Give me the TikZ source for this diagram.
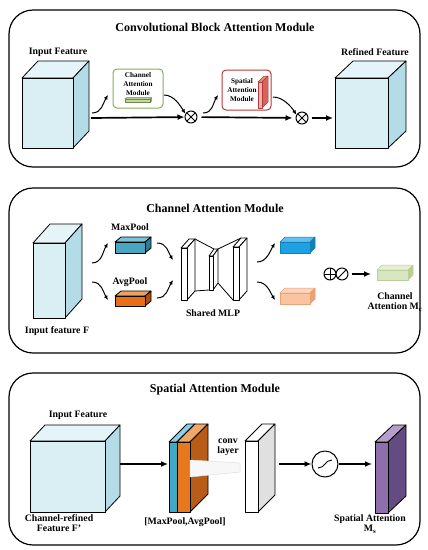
\documentclass[tikz,border=0pt]{standalone}
\usepackage{fontspec}
\setmainfont{Liberation Serif}
\usetikzlibrary{arrows.meta,calc,positioning}
\definecolor{cubefront}{RGB}{218,239,244}
\definecolor{cubeside}{RGB}{180,220,230}
\definecolor{cubetop}{RGB}{228,244,248}
\definecolor{camgreen}{RGB}{138,170,90}
\definecolor{cambar}{RGB}{196,216,160}
\definecolor{samred}{RGB}{176,58,58}
\definecolor{samfront}{RGB}{240,180,172}
\definecolor{samside}{RGB}{214,100,92}
\definecolor{samtop}{RGB}{232,140,132}
\definecolor{mpfront}{RGB}{74,166,192}
\definecolor{mpside}{RGB}{46,124,148}
\definecolor{mptop}{RGB}{120,196,216}
\definecolor{apfront}{RGB}{232,110,26}
\definecolor{apside}{RGB}{176,76,14}
\definecolor{aptop}{RGB}{240,160,96}
\definecolor{bofront}{RGB}{28,162,226}
\definecolor{boside}{RGB}{20,128,180}
\definecolor{botop}{RGB}{96,192,238}
\definecolor{pofront}{RGB}{250,196,160}
\definecolor{poside}{RGB}{236,160,116}
\definecolor{potop}{RGB}{252,214,190}
\definecolor{gofront}{RGB}{216,230,194}
\definecolor{goside}{RGB}{184,208,150}
\definecolor{gotop}{RGB}{228,238,214}
\definecolor{stblue}{RGB}{64,168,200}
\definecolor{stbluetop}{RGB}{140,206,226}
\definecolor{storange}{RGB}{232,120,30}
\definecolor{storangeside}{RGB}{184,92,24}
\definecolor{storangetop}{RGB}{240,168,104}
\definecolor{convside}{RGB}{224,224,224}
\definecolor{pufront}{RGB}{142,110,172}
\definecolor{puside}{RGB}{100,76,130}
\definecolor{putop}{RGB}{182,158,204}

% x, y (front top left), w, h, dx, dy, front, side, top
\newcommand{\drawcuboid}[9]{%
  \filldraw[fill=#9] (#1,#2) -- ++(#5,-#6) -- ++(#3,0) -- ++(-#5,#6) -- cycle;
  \filldraw[fill=#8] (#1+#3,#2) -- ++(#5,-#6) -- ++(0,#4) -- ++(-#5,#6) -- cycle;
  \filldraw[fill=#7] (#1,#2) rectangle ++(#3,#4);}

\begin{document}
\begin{tikzpicture}[x=1pt,y=-1pt,>=Latex,line join=round,line width=0.8pt,
    font=\bfseries\fontsize{9.8}{10.5}\selectfont,
    every node/.style={align=center},
    frame/.style={line width=1.2pt,rounded corners=24pt},
    ttl/.style={font=\bfseries\fontsize{12}{13}\selectfont},
    tiny/.style={font=\bfseries\fontsize{7.2}{9}\selectfont},
    main/.style={line width=1.7pt,-{Latex[length=7pt,width=6pt]}},
    curvarrow/.style={line width=1pt,-{Latex[length=4.5pt,width=4pt]}},
    opnode/.style={circle,draw,line width=1pt,minimum size=12pt,inner sep=0pt},
    xop/.style={opnode,path picture={\draw[line width=1pt]
        (path picture bounding box.north west)--(path picture bounding box.south east)
        (path picture bounding box.north east)--(path picture bounding box.south west);}},
    pop/.style={opnode,path picture={\draw[line width=1pt]
        (path picture bounding box.north)--(path picture bounding box.south)
        (path picture bounding box.east)--(path picture bounding box.west);}},
    sop/.style={opnode,path picture={\draw[line width=1pt]
        (path picture bounding box.south west)--(path picture bounding box.north east);}}]
  \useasboundingbox (0,0) rectangle (428,550);

  % CBAM overview
  \draw[frame] (9,10) rectangle (420,167);
  \node[ttl] (t1) at (215,27) {Convolutional Block Attention Module};
  \drawcuboid{22}{78}{51}{70}{16}{17}{cubefront}{cubeside}{cubetop}
  \node (inlbl) at (58,52) {Input Feature};
  \drawcuboid{335}{78}{53}{70}{18}{17}{cubefront}{cubeside}{cubetop}
  \node (reflbl) at (375,52) {Refined Feature};
  \node[draw=camgreen,line width=1pt,rounded corners=4pt,minimum width=50pt,minimum height=39pt] (cam) at (138,88.5) {};
  \node[tiny] (camtxt) at (138,84) {Channel\\Attention\\Module};
  \begin{scope}[draw=camgreen!80!black,line width=0.5pt]
    \drawcuboid{125}{99}{25}{3.5}{1.5}{1.5}{cambar}{cambar}{cambar}
  \end{scope}
  \node[draw=samred,line width=1pt,rounded corners=4pt,minimum width=49pt,minimum height=40pt] (sam) at (246.5,90) {};
  \node[tiny] (samtxt) at (242,90) {Spatial\\Attention\\Module};
  \begin{scope}[draw=samred,line width=0.5pt]
    \drawcuboid{258}{82}{4}{26}{6}{6}{samfront}{samside}{samtop}
  \end{scope}
  \coordinate (a0) at (91,118);
  \node[xop] (ot1) at (191,117) {};
  \node[xop] (ot2) at (302,118) {};
  \coordinate (a3) at (333,118);
  \draw[main] (a0) -- (ot1);
  \draw[main,shorten <=4pt,shorten >=3pt] (ot1) -- (ot2);
  \draw[main,shorten <=3pt] (ot2) -- (a3);
  \coordinate (b1s) at (92,113);
  \coordinate (b1e) at (108,95);
  \coordinate (b2s) at (164,95);
  \coordinate (b3s) at (203,113);
  \coordinate (b3e) at (218,95);
  \coordinate (b4s) at (273,97);
  \draw[curvarrow] (b1s) .. controls +(10,0) and +(-5,8) .. (b1e);
  \draw[curvarrow] (b2s) .. controls +(10,0) and +(-5,-8) .. (ot1.150);
  \draw[curvarrow] (b3s) .. controls +(10,0) and +(-5,8) .. (b3e);
  \draw[curvarrow] (b4s) .. controls +(10,0) and +(-5,-8) .. (ot2.150);

  % channel attention
  \draw[frame] (9,188) rectangle (420,353);
  \node[ttl] (t2) at (215,208) {Channel Attention Module};
  \drawcuboid{33}{243}{32}{75}{17}{19}{cubefront}{cubeside}{cubetop}
  \node (flbl) at (57,331) {Input feature F};
  \drawcuboid{115}{242}{30}{11}{6}{5}{mpfront}{mpside}{mptop}
  \node (mplbl) at (130,227) {MaxPool};
  \drawcuboid{115}{296}{30}{10}{6}{5}{apfront}{apside}{aptop}
  \node (aplbl) at (130,282) {AvgPool};
  \coordinate (c1s) at (92,263); \coordinate (c1e) at (108,243);
  \coordinate (c2s) at (92,282); \coordinate (c2e) at (108,300);
  \coordinate (c3s) at (157,243); \coordinate (c3e) at (173,260);
  \coordinate (c4s) at (157,298); \coordinate (c4e) at (173,280);
  \draw[curvarrow] (c1s) .. controls +(10,0) and +(-5,8) .. (c1e);
  \draw[curvarrow] (c2s) .. controls +(10,0) and +(-5,-8) .. (c2e);
  \draw[curvarrow] (c3s) .. controls +(10,0) and +(-5,-8) .. (c3e);
  \draw[curvarrow] (c4s) .. controls +(10,0) and +(-5,8) .. (c4e);
  \draw (195,239) -- (214,249) (195,291) -- (209,290);
  \draw (218,249) -- (241,238) (218,283) -- (233,300);
  \drawcuboid{181}{248}{6}{52}{8}{9}{white}{white}{white}
  \drawcuboid{209}{256}{4}{34}{5}{7}{white}{white}{white}
  \drawcuboid{233}{247}{6}{53}{8}{9}{white}{white}{white}
  \node (mlplbl) at (213,313) {Shared MLP};
  \begin{scope}[draw=boside,line width=0.5pt]
    \drawcuboid{280}{242}{30}{11}{5}{5}{bofront}{boside}{botop}
  \end{scope}
  \begin{scope}[draw=poside,line width=0.5pt]
    \drawcuboid{280}{293}{30}{11}{5}{5}{pofront}{poside}{potop}
  \end{scope}
  \coordinate (d1s) at (257,262); \coordinate (d1e) at (275,243);
  \coordinate (d2s) at (257,282); \coordinate (d2e) at (275,300);
  \draw[curvarrow] (d1s) .. controls +(10,0) and +(-5,8) .. (d1e);
  \draw[curvarrow] (d2s) .. controls +(10,0) and +(-5,-8) .. (d2e);
  \node[pop] (plus) at (330,274) {};
  \node[sop] (sig1) at (342,274) {};
  \coordinate (mc) at (371,274);
  \draw[main,shorten <=3pt] (sig1) -- (mc);
  \begin{scope}[draw=goside,line width=0.5pt]
    \drawcuboid{377}{270}{31}{10}{5}{5}{gofront}{goside}{gotop}
  \end{scope}
  \node (mclbl) at (395,302) {Channel\\Attention M\textsubscript{c}};

  % spatial attention
  \draw[frame] (9,373) rectangle (420,545);
  \node[ttl] (t3) at (215,390) {Spatial Attention Module};
  \drawcuboid{30}{441}{75}{71}{15}{16}{cubefront}{cubeside}{cubetop}
  \node (sinlbl) at (78,415) {Input Feature};
  \node (crlbl) at (59,523) {Channel-refined\\Feature F’};
  \coordinate (e0) at (120,464);
  \coordinate (e1) at (168,464);
  \draw[main] (e0) -- (e1);
  \drawcuboid{169}{442}{8}{70}{18}{18}{stblue}{stblue}{stbluetop}
  \drawcuboid{177}{442}{13}{70}{18}{18}{storange}{storangeside}{storangetop}
  \filldraw[fill=gray!6,draw=gray!25,line width=0.5pt] (190,460) -- (240,463) -- (240,472) -- (190,477) -- cycle;
  \drawcuboid{245}{441}{13}{71}{17}{17}{white}{convside}{white}
  \node (convlbl) at (228,447) {conv\\layer};
  \node (poollbl) at (185,522) {[MaxPool,AvgPool]};
  \node[circle,draw,line width=1pt,minimum size=26pt] (sig) at (325,464) {};
  \draw[line width=0.9pt] ([shift={(-7,4)}]sig.center) .. controls +(7,0) and +(-7,0) .. ([shift={(7,-4)}]sig.center);
  \coordinate (e2) at (279,464);
  \coordinate (e3) at (372,464);
  \draw[main] (e2) -- (sig);
  \draw[main] (sig) -- (e3);
  \drawcuboid{375}{442}{13}{71}{18}{17}{pufront}{puside}{putop}
  \node (mslbl) at (370,524) {Spatial Attention\\M\textsubscript{s}};
\end{tikzpicture}
\end{document}
